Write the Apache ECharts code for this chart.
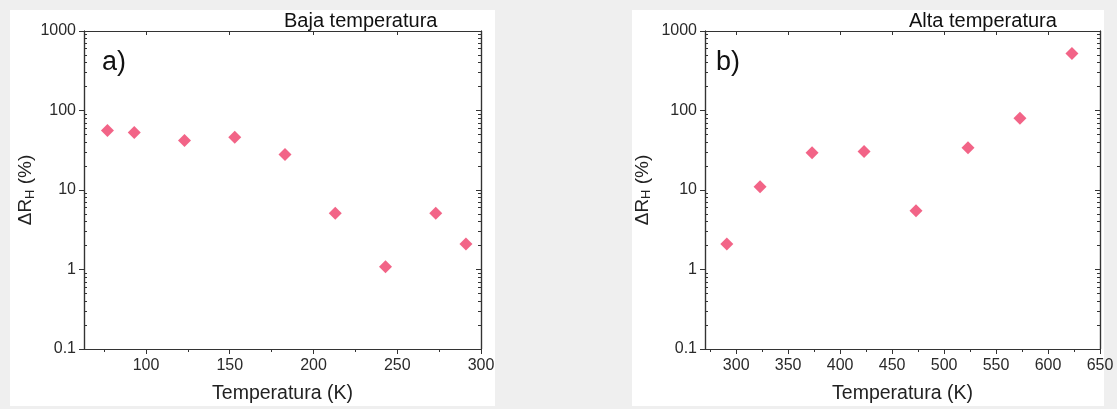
<!DOCTYPE html>
<html>
<head>
<meta charset="utf-8">
<script src="https://cdn.jsdelivr.net/npm/echarts@6/dist/echarts.min.js"></script>
<style>
  html, body { margin: 0; padding: 0; background: #efefef; }
  #main { width: 1117px; height: 409px; }
</style>
</head>
<body>
<div id="main"></div>
<script>
// panel a) low temperature
var tempLow = [77, 93, 123, 153, 183, 213, 243, 273, 291];
var drLow = [56, 53, 42, 46, 28, 5.1, 1.08, 5.1, 2.1];
// panel b) high temperature
var tempHigh = [291, 323, 373, 423, 473, 523, 573, 623];
var drHigh = [2.1, 11, 29.5, 30.5, 5.5, 34, 80, 520];

var xLabelsLow = [100, 150, 200, 250, 300];
var xMinorLow = [75, 125, 175, 225, 275];
var xLabelsHigh = [300, 350, 400, 450, 500, 550, 600, 650];
var xMinorHigh = [275, 325, 375, 425, 475, 525, 575, 625];
var yMinor = [0.2, 0.3, 0.4, 0.5, 0.6, 0.7, 0.8, 0.9,
              2, 3, 4, 5, 6, 7, 8, 9,
              20, 30, 40, 50, 60, 70, 80, 90,
              200, 300, 400, 500, 600, 700, 800, 900];

var FONT = 'Liberation Sans, Arial, sans-serif';
var axisColor = '#333333';
var markColor = '#ef3d69';

var chartDom = document.getElementById('main');
var myChart = echarts.init(chartDom);

// minor log ticks drawn on a plain value axis spanning log10(0.1)..log10(1000)
var yMinorLog = yMinor.map(function (v) { return Math.log10(v); });

var line = { onZero: false, lineStyle: { color: axisColor, width: 1.2 } };

function xAxes(gridIndex, min, max, labels, minors) {
  var base = {
    gridIndex: gridIndex, type: 'value', min: min, max: max,
    splitLine: { show: false }, axisLine: line
  };
  return [
    Object.assign({}, base, {
      position: 'bottom',
      name: 'Temperatura (K)', nameLocation: 'middle', nameGap: 35,
      nameTextStyle: { fontFamily: FONT, fontSize: 19.5, color: '#222' },
      axisLabel: { customValues: labels, fontFamily: FONT, fontSize: 16, color: '#2a2a2a', margin: 9 },
      axisTick: { customValues: labels, length: 5, lineStyle: { color: axisColor } }
    }),
    Object.assign({}, base, {
      position: 'bottom',
      axisLabel: { show: false },
      axisTick: { customValues: minors, length: 3, lineStyle: { color: axisColor } }
    }),
    Object.assign({}, base, {
      position: 'top',
      axisLabel: { show: false },
      axisTick: { customValues: labels, inside: true, length: 4, lineStyle: { color: axisColor } }
    })
  ];
}

function yAxes(gridIndex, nameGap) {
  var minorBase = {
    gridIndex: gridIndex, type: 'value', min: -1, max: 3,
    splitLine: { show: false }, axisLine: line,
    axisLabel: { show: false }
  };
  return [
    {
      gridIndex: gridIndex, type: 'log', logBase: 10, min: 0.1, max: 1000,
      position: 'left',
      splitLine: { show: false }, axisLine: line,
      name: '{a|ΔR}{s|H}{a| (%)}', nameLocation: 'middle', nameGap: nameGap,
      nameTextStyle: {
        rich: {
          a: { fontFamily: FONT, fontSize: 19, color: '#222' },
          s: { fontFamily: FONT, fontSize: 13, color: '#222', padding: [8, 0, 0, 0] }
        }
      },
      axisLabel: {
        fontFamily: FONT, fontSize: 16, color: '#2a2a2a', margin: 8,
        formatter: function (v) { return String(v); }
      },
      axisTick: { length: 5, lineStyle: { color: axisColor } }
    },
    Object.assign({}, minorBase, {
      position: 'left',
      axisTick: { customValues: yMinorLog, inside: true, length: 3, lineStyle: { color: axisColor } }
    }),
    Object.assign({}, minorBase, {
      position: 'right',
      axisTick: { customValues: [-1, 0, 1, 2, 3], inside: true, length: 5, lineStyle: { color: axisColor } }
    }),
    Object.assign({}, minorBase, {
      position: 'right',
      axisTick: { customValues: yMinorLog, inside: true, length: 3, lineStyle: { color: axisColor } }
    })
  ];
}

function pairs(xs, ys) {
  return xs.map(function (x, i) { return [x, ys[i]]; });
}

var option = {
  backgroundColor: '#efefef',
  animation: false,
  graphic: [
    { type: 'rect', shape: { x: 10, y: 10, width: 485, height: 396 }, style: { fill: '#ffffff' }, z: -10 },
    { type: 'rect', shape: { x: 632, y: 10, width: 472, height: 396 }, style: { fill: '#ffffff' }, z: -10 }
  ],
  title: [
    { text: 'Baja temperatura', left: 279, top: 6, textStyle: { fontFamily: FONT, fontSize: 20, fontWeight: 'normal', color: '#111' } },
    { text: 'a)', left: 97, top: 44, textStyle: { fontFamily: FONT, fontSize: 27, fontWeight: 'normal', color: '#111' } },
    { text: 'Alta temperatura', left: 904, top: 6, textStyle: { fontFamily: FONT, fontSize: 20, fontWeight: 'normal', color: '#111' } },
    { text: 'b)', left: 711, top: 44, textStyle: { fontFamily: FONT, fontSize: 27, fontWeight: 'normal', color: '#111' } }
  ],
  grid: [
    { left: 84, top: 31, width: 397, height: 318 },
    { left: 705, top: 31, width: 395, height: 318 }
  ],
  xAxis: xAxes(0, 63, 300, xLabelsLow, xMinorLow).concat(xAxes(1, 270, 650, xLabelsHigh, xMinorHigh)),
  yAxis: yAxes(0, 46).concat(yAxes(1, 52)),
  series: [
    {
      type: 'scatter', xAxisIndex: 0, yAxisIndex: 0,
      symbol: 'diamond', symbolSize: 13,
      itemStyle: { color: markColor },
      data: pairs(tempLow, drLow)
    },
    {
      type: 'scatter', xAxisIndex: 3, yAxisIndex: 4,
      symbol: 'diamond', symbolSize: 13,
      itemStyle: { color: markColor },
      data: pairs(tempHigh, drHigh)
    }
  ]
};
myChart.setOption(option);
</script>
</body>
</html>
